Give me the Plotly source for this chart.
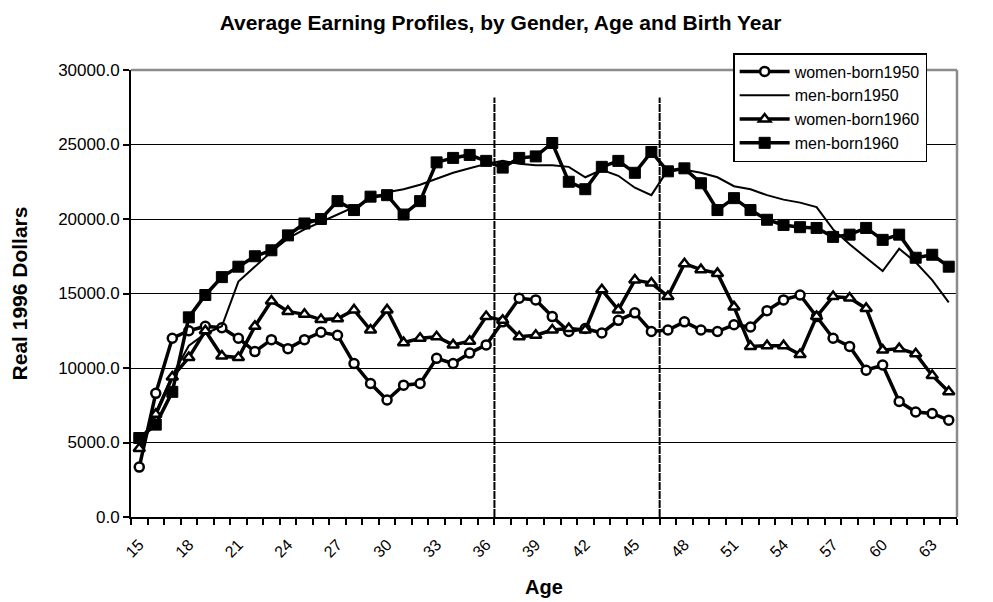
import plotly.graph_objects as go

ages = list(range(15, 65))

women_1950 = [3350, 8300, 12000, 12500, 12800, 12700, 12000, 11100, 11900, 11300,
              11900, 12400, 12200, 10300, 8960, 7850, 8850, 8960, 10650, 10300,
              11000, 11550, 13100, 14680, 14570, 13450, 12450, 12650, 12350, 13200,
              13700, 12450, 12550, 13100, 12550, 12450, 12900, 12750, 13850, 14570,
              14900, 13450, 12000, 11450, 9850, 10200, 7750, 7050, 6950, 6500]

men_1950 = [4800, 7000, 9500, 11500, 12300, 12800, 15800, 16800, 17800, 18700,
            19300, 19800, 20300, 20800, 21300, 21800, 22000, 22300, 22700, 23100,
            23400, 23700, 23900, 23700, 23600, 23600, 23500, 22800, 23300, 22900,
            22100, 21600, 23300, 23300, 23100, 22800, 22200, 22000, 21600, 21300,
            21100, 20800, 19300, 18300, 17400, 16500, 18000, 17100, 15900, 14400]

women_1960 = [4600, 6900, 9400, 10700, 12500, 10800, 10700, 12800, 14500, 13800,
              13600, 13250, 13300, 13900, 12550, 13900, 11700, 12000, 12100, 11550,
              11800, 13450, 13200, 12100, 12200, 12550, 12650, 12550, 15250, 13900,
              15900, 15700, 14800, 17000, 16600, 16350, 14100, 11450, 11500, 11500,
              10900, 13450, 14800, 14700, 14000, 11200, 11300, 10950, 9500, 8400]

men_1960 = [5300, 6200, 8400, 13400, 14900, 16100, 16800, 17500, 17900, 18900,
            19700, 20000, 21200, 20600, 21500, 21600, 20300, 21200, 23800, 24100,
            24300, 23900, 23450, 24100, 24200, 25100, 22500, 22000, 23500, 23900,
            23100, 24500, 23200, 23400, 22400, 20600, 21400, 20600, 19950, 19600,
            19450, 19400, 18800, 18950, 19400, 18600, 18950, 17400, 17600, 16800]

tick_ages = list(range(15, 64, 3))
y_ticks = [0, 5000, 10000, 15000, 20000, 25000, 30000]
divider_ages = [36.5, 46.5]
divider_top = 28150

FONT = "Liberation Sans, Arial, sans-serif"

fig = go.Figure()
fig.add_trace(go.Scatter(
    x=ages, y=women_1950, name="women-born1950", mode="lines+markers",
    line=dict(color="black", width=3.5),
    marker=dict(symbol="circle", size=9, color="white", line=dict(color="black", width=2.5))))
fig.add_trace(go.Scatter(
    x=ages, y=men_1950, name="men-born1950", mode="lines",
    line=dict(color="black", width=2)))
fig.add_trace(go.Scatter(
    x=ages, y=women_1960, name="women-born1960", mode="lines+markers",
    line=dict(color="black", width=3.5),
    marker=dict(symbol="triangle-up", size=10, color="white", line=dict(color="black", width=2.5))))
fig.add_trace(go.Scatter(
    x=ages, y=men_1960, name="men-born1960", mode="lines+markers",
    line=dict(color="black", width=3.5),
    marker=dict(symbol="square", size=11, color="black", line=dict(color="black", width=1))))

shapes = []
for a in divider_ages:
    shapes.append(dict(type="line", xref="x", yref="y", x0=a, x1=a, y0=0, y1=divider_top,
                       line=dict(color="black", width=2, dash="8px,1px"), layer="above"))
# top & right grey frame
shapes.append(dict(type="line", xref="paper", yref="paper", x0=0, x1=1, y0=1, y1=1,
                   line=dict(color="#8c8c8c", width=2.5)))
shapes.append(dict(type="line", xref="paper", yref="paper", x0=1, x1=1, y0=0, y1=1,
                   line=dict(color="#8c8c8c", width=2.5)))

fig.update_layout(
    width=985, height=594,
    paper_bgcolor="white", plot_bgcolor="white",
    margin=dict(l=123, r=36, t=62, b=85),
    font=dict(family=FONT, color="black", size=16),
    title=dict(text="<b>Average Earning Profiles, by Gender, Age and Birth Year</b>",
               x=0.5, xanchor="center", y=0.976, yanchor="middle",
               font=dict(size=21, family=FONT)),
    showlegend=True,
    legend=dict(x=0.729, y=1.038, xanchor="left", yanchor="top",
                bgcolor="white", bordercolor="black", borderwidth=1.5,
                font=dict(size=16, family=FONT), tracegroupgap=0,
                itemwidth=50),
    shapes=shapes,
    xaxis=dict(
        range=[14.5, 64.5], tickmode="array", tickvals=tick_ages,
        ticktext=[str(t) for t in tick_ages], tickangle=-45, ticks="",
        showgrid=False, zeroline=False, showline=True, linecolor="black", linewidth=2,
        tickfont=dict(size=16, family=FONT), ticklabelstandoff=10, automargin=False,
        minor=dict(tickmode="linear", tick0=14.5, dtick=1, ticks="outside",
                   ticklen=6, tickwidth=1.5, tickcolor="black", showgrid=False),
        title=dict(text="<b>Age</b>", font=dict(size=20, family=FONT), standoff=20),
    ),
    yaxis=dict(
        range=[0, 30000], tickmode="array", tickvals=y_ticks,
        ticktext=[f"{v:.1f}" for v in y_ticks], ticks="outside", ticklen=6,
        tickwidth=1.5, tickcolor="black", automargin=False,
        showgrid=True, gridcolor="black", gridwidth=1.2, zeroline=False,
        showline=True, linecolor="black", linewidth=2,
        tickfont=dict(size=17, family=FONT),
        title=dict(text="<b>Real 1996 Dollars</b>", font=dict(size=21, family=FONT), standoff=26),
    ),
)

fig.write_html("out.html")
